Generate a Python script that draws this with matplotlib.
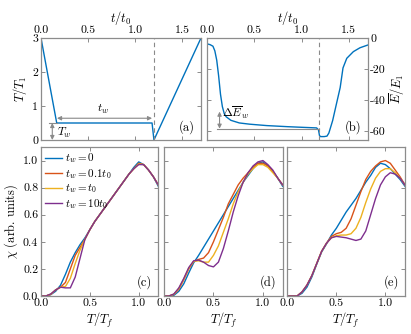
import numpy as np
import matplotlib
matplotlib.use("Agg")
import matplotlib.pyplot as plt

plt.rcParams["font.family"] = "serif"
plt.rcParams["font.serif"] = ["cmr10", "DejaVu Serif"]
plt.rcParams["mathtext.fontset"] = "cm"
plt.rcParams["axes.formatter.use_mathtext"] = True
plt.rcParams["axes.unicode_minus"] = False

# ---- data ----
# (a) temperature protocol
t_a = [0.0, 0.167, 1.18, 1.2, 1.7]
T_a = [3.0, 0.5, 0.5, 0.0, 3.0]

# (b) mean energy
t_b = [0.0, 0.03, 0.06, 0.08, 0.1, 0.12, 0.14, 0.16, 0.18, 0.2, 0.25, 0.34,
       0.45, 0.63, 0.85, 1.0, 1.16, 1.18, 1.19, 1.2, 1.24, 1.27, 1.29, 1.33, 1.37, 1.41,
       1.44, 1.48, 1.55, 1.62, 1.7]
E_b = [-3.5, -4.0, -5.0, -8.0, -14.0, -24.0, -36.0, -44.0, -48.5, -50.5,
       -52.8, -54.5, -55.3, -56.2, -56.9, -57.3, -57.7, -59.0, -62.5, -63.3, -63.3, -63.0,
       -61.0, -53.0, -42.3, -31.7, -19.0, -12.8, -8.5, -6.0, -4.3]

# (c)-(e) susceptibility vs T/T_f
T_f = [0.0, 0.05, 0.1, 0.15, 0.2, 0.25, 0.3, 0.35, 0.4, 0.45, 0.5, 0.55, 0.6, 0.65, 0.7,
       0.75, 0.8, 0.85, 0.9, 0.95, 1.0, 1.05, 1.1, 1.15, 1.2]

chi_c = {
    "0": [0, 0, 0.01, 0.035, 0.08, 0.16, 0.25, 0.32, 0.38, 0.43, 0.49, 0.55, 0.6, 0.65,
          0.7, 0.75, 0.8, 0.85, 0.9, 0.95, 0.99, 0.97, 0.93, 0.88, 0.81],
    "0.1": [0, 0, 0.012, 0.045, 0.065, 0.1, 0.2, 0.3, 0.36, 0.42, 0.49, 0.55, 0.6, 0.65,
            0.7, 0.75, 0.8, 0.85, 0.9, 0.94, 0.98, 0.97, 0.93, 0.88, 0.82],
    "1": [0, 0, 0.013, 0.045, 0.065, 0.07, 0.13, 0.24, 0.34, 0.42, 0.49, 0.55, 0.6, 0.65,
          0.7, 0.75, 0.8, 0.85, 0.9, 0.94, 0.975, 0.97, 0.93, 0.88, 0.82],
    "10": [0, 0, 0.015, 0.045, 0.065, 0.06, 0.06, 0.14, 0.28, 0.42, 0.49, 0.55, 0.6, 0.65,
           0.7, 0.75, 0.8, 0.85, 0.9, 0.94, 0.97, 0.97, 0.93, 0.88, 0.82],
}
chi_d = {
    "0": [0, 0, 0.005, 0.035, 0.09, 0.17, 0.245, 0.3, 0.36, 0.42, 0.48, 0.54, 0.6, 0.66,
          0.72, 0.78, 0.84, 0.89, 0.94, 0.98, 0.99, 0.96, 0.92, 0.87, 0.81],
    "0.1": [0, 0, 0.012, 0.05, 0.12, 0.2, 0.255, 0.27, 0.28, 0.32, 0.4, 0.49, 0.58, 0.68,
            0.75, 0.82, 0.87, 0.91, 0.95, 0.98, 0.98, 0.96, 0.92, 0.87, 0.82],
    "1": [0, 0, 0.013, 0.055, 0.125, 0.205, 0.255, 0.26, 0.25, 0.25, 0.3, 0.37, 0.47, 0.57,
          0.68, 0.77, 0.84, 0.9, 0.94, 0.97, 0.97, 0.95, 0.91, 0.87, 0.82],
    "10": [0, 0, 0.015, 0.06, 0.13, 0.21, 0.26, 0.265, 0.25, 0.225, 0.215, 0.25, 0.35, 0.48,
           0.62, 0.74, 0.84, 0.91, 0.96, 0.99, 1.0, 0.97, 0.93, 0.87, 0.82],
}
chi_e = {
    "0": [0, 0, 0.0, 0.02, 0.065, 0.14, 0.235, 0.325, 0.385, 0.45, 0.5, 0.56, 0.62, 0.67,
          0.72, 0.78, 0.84, 0.89, 0.95, 0.98, 0.97, 0.94, 0.9, 0.86, 0.81],
    "0.1": [0, 0, 0.0, 0.03, 0.08, 0.15, 0.24, 0.33, 0.39, 0.44, 0.46, 0.47, 0.5, 0.57,
            0.67, 0.77, 0.86, 0.92, 0.96, 0.99, 1.0, 0.98, 0.93, 0.88, 0.82],
    "1": [0, 0, 0.0, 0.03, 0.08, 0.15, 0.24, 0.33, 0.39, 0.43, 0.445, 0.45, 0.45, 0.46,
          0.5, 0.58, 0.69, 0.79, 0.87, 0.92, 0.94, 0.94, 0.91, 0.87, 0.82],
    "10": [0, 0, 0.0, 0.03, 0.08, 0.15, 0.24, 0.33, 0.39, 0.43, 0.44, 0.435, 0.43, 0.42,
           0.41, 0.42, 0.48, 0.6, 0.72, 0.82, 0.88, 0.91, 0.9, 0.87, 0.82],
}

tw_keys = ["0", "0.1", "1", "10"]
tw_labels = [r"$t_w = 0$", r"$t_w = 0.1t_0$", r"$t_w = t_0$", r"$t_w = 10t_0$"]
colors = ["#0072BD", "#D95319", "#EDB120", "#7E2F8E"]
spine_gray = "#8c8c8c"
ref_gray = "#8a8a8a"


def style(ax):
    for s in ax.spines.values():
        s.set_color(spine_gray)
        s.set_linewidth(0.9)
    ax.tick_params(direction="in", top=True, right=True, length=3, width=0.7,
                   color=spine_gray, labelsize=8.5, pad=2)


fig = plt.figure(figsize=(4.11, 3.34), dpi=100)
W, H = 411.0, 334.0


def add_ax(x0, x1, y0, y1):
    return fig.add_axes([x0 / W, 1 - y1 / H, (x1 - x0) / W, (y1 - y0) / H])


# ---- (a) ----
ax = add_ax(41, 201, 38, 140)
style(ax)
ax.plot(t_a, T_a, color=colors[0], lw=1.0)
ax.axvline(1.2, color=ref_gray, lw=0.8, ls=(0, (4, 3)))
ax.plot([0.09, 0.167], [0.5, 0.5], color=ref_gray, lw=0.8)
ax.annotate("", xy=(1.18, 0.64), xytext=(0.17, 0.64),
            arrowprops=dict(arrowstyle="<|-|>", color=ref_gray, lw=0.8,
                            mutation_scale=6, shrinkA=0, shrinkB=0))
ax.annotate("", xy=(0.12, 0.0), xytext=(0.12, 0.5),
            arrowprops=dict(arrowstyle="<|-|>", color=ref_gray, lw=0.8,
                            mutation_scale=6, shrinkA=0, shrinkB=0))
ax.text(0.66, 0.72, r"$t_w$", fontsize=8.5, ha="center", va="bottom")
ax.text(0.17, 0.2, r"$T_w$", fontsize=8.5, ha="left", va="center")
ax.text(0.96, 0.06, "(a)", transform=ax.transAxes, fontsize=9, ha="right", va="bottom")
ax.set_xlim(0, 1.7)
ax.set_ylim(0, 3)
ax.set_xticks([0, 0.5, 1.0, 1.5])
ax.set_xticklabels(["0.0", "0.5", "1.0", "1.5"])
ax.set_yticks([0, 1, 2, 3])
ax.set_yticklabels(["0", "1", "2", "3"])
ax.tick_params(labelbottom=False, labeltop=True)
ax.xaxis.set_label_position("top")
ax.set_xlabel(r"$t/t_0$", fontsize=9, labelpad=3)
ax.set_ylabel(r"$T/T_1$", fontsize=9, labelpad=2)

# ---- (b) ----
ax = add_ax(207.3, 367.5, 38, 140)
style(ax)
ax.plot(t_b, E_b, color=colors[0], lw=1.0)
ax.axvline(1.19, color=ref_gray, lw=0.8, ls=(0, (4, 3)))
ax.plot([0.1, 1.19], [-58.2, -58.2], color=ref_gray, lw=0.8)
ax.annotate("", xy=(0.13, -58.2), xytext=(0.13, -47.2),
            arrowprops=dict(arrowstyle="<|-|>", color=ref_gray, lw=0.8,
                            mutation_scale=6, shrinkA=0, shrinkB=0))
ax.text(0.155, -47.5, r"$\Delta\overline{E}_w$", fontsize=8.5, ha="left", va="center")
ax.text(0.96, 0.06, "(b)", transform=ax.transAxes, fontsize=9, ha="right", va="bottom")
ax.set_xlim(0, 1.7)
ax.set_ylim(-65.5, 0.3)
ax.set_xticks([0, 0.5, 1.0, 1.5])
ax.set_xticklabels(["0.0", "0.5", "1.0", "1.5"])
ax.set_yticks([0, -20, -40, -60])
ax.set_yticklabels(["0", "-20", "-40", "-60"])
ax.tick_params(labelbottom=False, labeltop=True, labelleft=False, labelright=True)
ax.xaxis.set_label_position("top")
ax.yaxis.set_label_position("right")
ax.set_xlabel(r"$t/t_0$", fontsize=9, labelpad=3)
ax.set_ylabel(r"$\overline{E}/E_1$", fontsize=9, labelpad=1)

# ---- (c)-(e) ----
bottom = [(41, 158.3, "(c)", chi_c), (164, 282.7, "(d)", chi_d), (287.3, 405, "(e)", chi_e)]
for i, (x0, x1, tag, data) in enumerate(bottom):
    ax = add_ax(x0, x1, 147, 296)
    style(ax)
    for key, lab, col in zip(tw_keys, tw_labels, colors):
        ax.plot(T_f, data[key], color=col, lw=1.0, label=lab)
    ax.set_xlim(0, 1.2)
    ax.set_ylim(0, 1.1)
    ax.set_xticks([0, 0.5, 1.0])
    ax.set_xticklabels(["0.0", "0.5", "1.0"])
    ax.set_yticks([0, 0.2, 0.4, 0.6, 0.8, 1.0])
    ax.set_xlabel(r"$T/T_f$", fontsize=9, labelpad=2)
    ax.text(0.95, 0.05, tag, transform=ax.transAxes, fontsize=9, ha="right", va="bottom")
    if i == 0:
        ax.set_yticklabels(["0.0", "0.2", "0.4", "0.6", "0.8", "1.0"])
        ax.set_ylabel(r"$\chi$ (arb. units)", fontsize=9, labelpad=2)
        ax.legend(loc="upper left", frameon=False, fontsize=8, handlelength=1.5,
                  handletextpad=0.3, labelspacing=0.15, borderaxespad=0.2,
                  borderpad=0.2)
    else:
        ax.tick_params(labelleft=False)

fig.savefig("out.png", dpi=100)
